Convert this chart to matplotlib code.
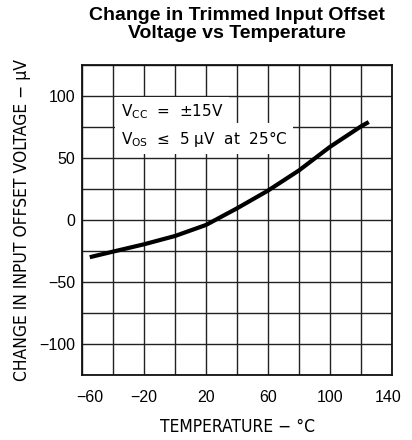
import matplotlib
matplotlib.use('Agg')
import matplotlib.pyplot as plt
import matplotlib.transforms as mtransforms

# Data
temperature = [-55, -40, -20, 0, 20, 40, 60, 80, 100, 120, 125]
offset_change = [-30, -25.5, -19.6, -12.9, -4, 9.4, 23.7, 40, 59, 75.5, 79]
x_tick_values = [-60, -20, 20, 60, 100, 140]
y_tick_values = [-100, -50, 0, 50, 100]
x_grid = list(range(-60, 141, 20))
y_grid = list(range(-125, 126, 25))

title_lines = ['Change in Trimmed Input Offset', 'Voltage vs Temperature']
x_label = 'TEMPERATURE \u2212 \u00b0C'
y_label = 'CHANGE IN INPUT OFFSET VOLTAGE \u2212 \u03bcV'
note1 = 'V$_{\\mathregular{CC}}$  =  \u00b115V'
note2 = 'V$_{\\mathregular{OS}}$  \u2264  5 \u03bcV  at  25\u00b0C'

tick_font = ['Liberation Sans', 'DejaVu Sans']

fig = plt.figure(figsize=(4.12, 4.40), dpi=100)
ax = fig.add_axes([82/412, 65/440, 310/412, 310/440])
ax.set_xlim(-60, 140)
ax.set_ylim(-125, 125)

ax.set_xticks(x_grid, minor=True)
ax.set_yticks(y_grid, minor=True)
ax.set_xticks(x_tick_values)
ax.set_yticks(y_tick_values)
ax.grid(True, which='both', color='#222222', linewidth=1.0)
ax.set_axisbelow(True)
ax.tick_params(which='both', length=0)
ax.tick_params(axis='x', pad=11, labelsize=11.5)
ax.tick_params(axis='y', pad=5, labelsize=11.5)
for lab in ax.get_xticklabels() + ax.get_yticklabels():
    lab.set_family(tick_font)
xl = ax.get_xticklabels()
xl[0].set_transform(xl[0].get_transform() + mtransforms.ScaledTranslation(8/100, 0, fig.dpi_scale_trans))
xl[-1].set_transform(xl[-1].get_transform() + mtransforms.ScaledTranslation(-4/100, 0, fig.dpi_scale_trans))
for sp in ax.spines.values():
    sp.set_linewidth(1.3)
    sp.set_color('#111111')

ax.plot(temperature, offset_change, color='black', linewidth=3.0,
        solid_capstyle='butt', zorder=5)

bbox = dict(facecolor='white', edgecolor='none', pad=4)
ax.text(-35, 87, note1, fontsize=11, family='DejaVu Sans', va='center',
        ha='left', bbox=bbox, zorder=4)
ax.text(-35, 65.5, note2, fontsize=11, family='DejaVu Sans', va='center',
        ha='left', bbox=bbox, zorder=4)

ax.set_xlabel(x_label, family='DejaVu Sans', fontstretch='condensed', fontsize=12.5, labelpad=9)
ax.set_ylabel(y_label, family='DejaVu Sans', fontstretch='condensed', fontsize=12.5, labelpad=6)

fig.text(237/412, 1 - 16/440, title_lines[0], ha='center', va='center',
         fontsize=14, fontweight='bold', family=tick_font)
fig.text(237/412, 1 - 33.5/440, title_lines[1], ha='center', va='center',
         fontsize=14, fontweight='bold', family=tick_font)

fig.savefig('out.png', dpi=100)
